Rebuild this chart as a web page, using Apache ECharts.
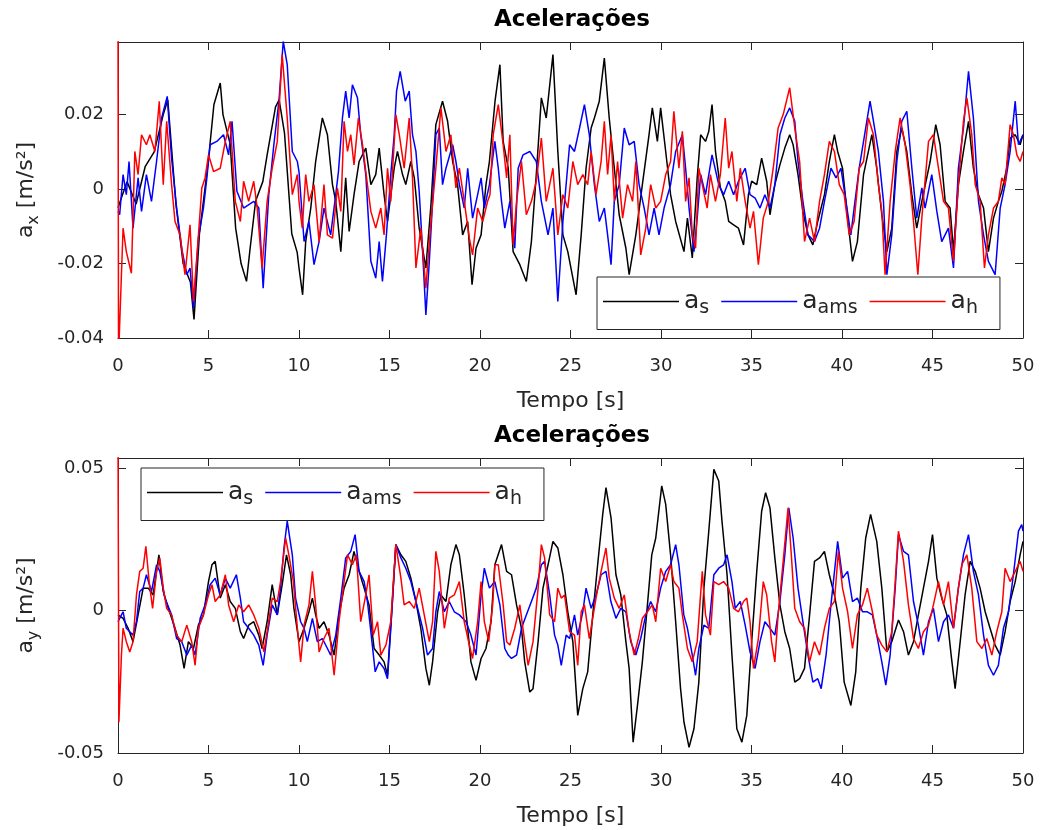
<!DOCTYPE html>
<html><head><meta charset="utf-8">
<script src="https://cdn.jsdelivr.net/npm/echarts@6/dist/echarts.min.js"></script>
<style>html,body{margin:0;padding:0;background:#fff}#c{width:1041px;height:830px}</style>
</head><body><div id="c"></div>
<script>
// ---- data: [time (s), acceleration (m/s²)] ----
const seriesNames = ['a_s', 'a_ams', 'a_h'];
const seriesSubs = { 'a_s': 's', 'a_ams': 'ams', 'a_h': 'h' };
const titleText = 'Acelerações';
const xTickInterval = 5;

const topAs = [[0,-0.005],[0.5,0.002],[1.0,-0.004],[1.5,0.006],[2.0,0.010],[2.5,0.020],[2.75,0.024],[3.2,-0.004],[3.6,-0.020],[4.0,-0.025],[4.2,-0.035],[4.5,-0.012],[5.0,0.008],[5.3,0.0227],[5.65,0.0285],[5.8,0.020],[6.2,0.012],[6.5,-0.0105],[6.8,-0.020],[7.1,-0.0248],[7.3,-0.0159],[7.6,-0.0033],[8.0,0.002],[8.24,0.0092],[8.7,0.022],[8.9,0.024],[9.2,0.015],[9.6,-0.012],[9.9,-0.017],
[10.0,-0.0212],[10.2,-0.0284],[10.37,-0.0141],[10.65,-0.0051],[10.92,0.0074],[11.29,0.0191],[11.57,0.0146],[11.85,0.0012],[12.03,-0.0033],[12.31,-0.0168],[12.58,0.003],[12.77,-0.0114],[13.04,-0.0015],[13.32,0.0074],[13.69,0.011],[13.97,0.0012],[14.24,0.0039],[14.43,0.011],[14.7,-0.0015],[14.89,-0.0087],[15.26,0.0056],[15.44,0.0101],[15.72,0.0039],[15.9,0.0012],[16.18,0.0074],[16.37,0.003],[16.64,-0.0105],[17.01,-0.0212],[17.29,-0.0042],[17.56,0.0173],[17.93,0.0236],[18.21,0.0182],[18.49,0.0074],[18.76,0.0012],[19.04,-0.0123],[19.32,-0.0087],[19.56,-0.0257],[19.78,-0.0159],[20.06,-0.0123],[20.33,0.0012],[20.52,0.0074],
[20.83,0.0236],[21.1,0.0334],[21.28,0.0128],[21.56,0.0056],[21.83,-0.0168],[22.2,-0.0203],[22.56,-0.0248],[22.84,-0.0141],[23.11,0.0039],[23.39,0.0245],[23.66,0.0191],[24.03,0.0361],[24.3,0.0101],[24.58,-0.0123],[24.85,-0.0168],[25.31,-0.0284],[25.59,-0.0123],[25.86,0.0056],[26.14,0.0164],[26.32,0.0191],[26.59,0.0236],[26.87,0.0352],[27.14,0.0191],[27.42,0.0056],[27.69,-0.0069],[28.06,-0.0159],[28.24,-0.023],[28.61,-0.0123],[28.97,0.0012],[29.34,0.0146],[29.52,0.0218],[29.8,0.0128],[29.98,0.0218],[30.26,0.0101],[30.53,-0.0015],[30.81,-0.0087],
[31.27,-0.0168],[31.46,-0.0078],[31.73,-0.0185],[32.0,0.003],[32.19,0.0146],[32.46,0.0128],[32.64,0.0155],[32.82,0.0227],[33.01,0.0101],[33.28,0.0003],[33.55,-0.0033],[33.74,-0.0087],[34.01,-0.0096],[34.28,-0.0105],[34.56,-0.015],[34.83,-0.0015],[35.01,0.0021],[35.29,0.0012],[35.56,0.0083],[35.84,0.0021],[36.02,-0.0069],[36.29,0.0012],[36.57,0.0065],[36.84,0.011],[37.11,0.0146],[37.3,0.0119],[37.57,0.0039],[37.84,-0.006],[38.12,-0.0123],[38.39,-0.015],[38.66,-0.0087],[39.03,-0.0015],[39.3,0.0074],[39.58,0.0146],[39.76,0.0101],[40.03,0.0056],[40.31,-0.0078],[40.58,-0.0194],[40.85,-0.0141],
[41.19,0.0039],[41.65,0.0146],[41.92,0.0056],[42.2,-0.0069],[42.48,-0.0168],[42.75,-0.0105],[43.03,0.0101],[43.3,0.0164],[43.58,0.0101],[43.86,-0.0015],[44.13,-0.0105],[44.41,-0.0033],[44.87,0.0074],[45.18,0.0173],[45.42,0.0119],[45.7,-0.0033],[45.97,-0.0051],[46.16,-0.0168],[46.43,0.0012],[46.71,0.0101],[46.99,0.0182],[47.26,0.0056],[47.54,-0.0015],[47.82,-0.0051],[48.09,-0.0168],[48.37,-0.0078],[48.64,-0.0033],[48.83,-0.0006],[49.1,0.0056],[49.29,0.0137],[49.57,0.0146],[49.84,0.0119],[50.0,0.0146]];

const topAms = [[0,-0.006],[0.09,-0.0069],[0.28,0.0039],[0.46,-0.0015],[0.61,0.0074],[0.83,-0.0105],[1.11,0.003],[1.3,-0.006],[1.57,0.0039],[1.85,-0.0033],[2.13,0.0074],[2.41,0.0191],[2.72,0.0249],[2.96,0.0083],[3.24,-0.0051],[3.52,-0.0159],[3.8,-0.023],[3.98,-0.0212],[4.17,-0.032],[4.44,-0.0132],[4.72,-0.0051],[4.91,0.003],[5.09,0.0119],[5.46,0.0128],[5.83,0.0146],[6.11,0.0092],[6.3,0.0182],[6.57,-0.0006],[6.94,-0.0051],[7.5,-0.0033],[7.78,-0.0051],[8.02,-0.0266],[8.33,-0.0015],[8.61,0.0119],[8.89,0.0236],[9.13,0.0397],[9.35,0.0334],[9.63,0.0101],[9.91,0.0074],
[10.0,0.0047],[10.28,-0.0141],[10.55,-0.0087],[10.83,-0.0203],[11.11,-0.0141],[11.38,-0.0051],[11.75,-0.0123],[12.03,-0.0015],[12.18,0.0047],[12.4,0.0191],[12.58,0.0263],[12.77,0.0191],[12.95,0.028],[13.23,0.0245],[13.41,0.0146],[13.69,0.0039],[13.97,-0.0194],[14.24,-0.0239],[14.43,-0.0141],[14.61,-0.0248],[14.83,-0.0123],[15.07,0.0039],[15.26,0.0146],[15.39,0.0263],[15.59,0.0316],[15.87,0.0236],[16.09,0.0263],[16.27,0.0146],[16.46,0.0101],[16.64,-0.0006],[16.83,-0.0168],[17.01,-0.0338],[17.2,-0.0194],[17.38,-0.0033],[17.56,0.0146],[17.75,0.0164],[17.93,0.0012],[18.12,0.0056],[18.49,0.0119],[18.67,0.0074],[18.86,0.0012],[19.13,-0.0051],[19.32,0.0056],[19.59,-0.0078],[19.87,-0.0015],[20.06,0.003],[20.24,-0.0051],[20.52,0.0012],
[20.82,0.0128],[21.01,0.0056],[21.19,-0.0033],[21.37,-0.0105],[21.65,-0.0033],[21.92,-0.0159],[22.11,0.0056],[22.38,0.0092],[22.75,0.0101],[23.11,0.0074],[23.39,-0.0033],[23.76,-0.0123],[24.03,-0.0051],[24.3,-0.0302],[24.58,-0.0087],[24.95,0.0119],[25.22,0.0101],[25.5,0.0164],[25.77,0.0227],[26.04,0.0146],[26.32,0.0012],[26.59,-0.0087],[26.87,-0.0051],[27.05,-0.0123],[27.24,-0.0203],[27.42,-0.0033],[27.69,0.0012],[27.97,0.0164],[28.24,0.0119],[28.52,0.0128],[28.79,0.0012],[29.07,-0.0051],[29.34,-0.0123],[29.62,-0.0051],[29.89,-0.0123],[30.17,-0.0051],[30.53,0.0012],[30.81,0.0101],
[31.18,0.0146],[31.36,0.0056],[31.55,-0.0051],[31.82,-0.0168],[32.0,-0.0078],[32.19,0.0039],[32.46,-0.0015],[32.82,0.0092],[33.19,0.0012],[33.46,-0.0015],[33.74,0.0021],[34.01,-0.0015],[34.28,0.0021],[34.65,0.0056],[34.92,-0.0015],[35.2,-0.0024],[35.47,-0.0051],[35.74,-0.0015],[36.02,-0.0051],[36.29,0.0012],[36.57,0.0146],[36.84,0.0191],[37.11,0.0218],[37.39,0.0182],[37.57,0.0074],[37.84,-0.0033],[38.12,-0.0123],[38.48,-0.0141],[38.76,-0.0105],[39.03,-0.0033],[39.39,0.0056],[39.67,0.003],[39.94,0.0056],[40.22,-0.0033],[40.49,-0.0123],[40.67,-0.0051],[40.95,0.0056],
[41.19,0.0128],[41.55,0.0236],[41.74,0.0182],[42.01,0.0101],[42.29,-0.0033],[42.48,-0.023],[42.75,-0.0123],[43.03,0.0074],[43.3,0.0182],[43.58,0.0209],[43.86,0.0056],[44.13,-0.0078],[44.41,0.0003],[44.59,-0.0051],[44.96,0.0039],[45.24,-0.006],[45.51,-0.0141],[45.88,-0.0105],[46.16,-0.0212],[46.43,0.0056],[46.71,0.0164],[46.99,0.0316],[47.26,0.0191],[47.54,-0.0033],[47.82,-0.0123],[48.09,-0.0194],[48.46,-0.023],[48.74,-0.0051],[49.01,0.0012],[49.29,0.0101],[49.57,0.0236],[49.75,0.0119],[50.0,0.0146]];

const topH = [[0,0.045],[0.03,-0.045],[0.28,-0.0105],[0.46,-0.0168],[0.74,-0.0226],[0.93,0.0101],[1.11,0.0039],[1.3,0.0146],[1.57,0.0119],[1.76,0.0146],[2.04,0.0101],[2.28,0.0236],[2.5,0.0012],[2.69,0.0182],[2.96,0.0012],[3.15,-0.0087],[3.43,-0.0123],[3.7,-0.023],[3.98,-0.0096],[4.17,-0.0302],[4.39,-0.0159],[4.63,0.0003],[4.81,0.003],[5.0,0.0092],[5.28,0.0047],[5.65,0.0056],[5.93,0.0128],[6.2,0.0182],[6.48,-0.0033],[6.76,-0.0087],[6.94,0.0021],[7.22,-0.0033],[7.5,0.0021],[7.69,-0.0051],[7.96,-0.0212],[8.24,-0.0033],[8.52,0.0056],[8.8,0.0128],[9.07,0.0361],[9.35,0.0191],[9.63,-0.0015],[9.91,0.0039],
[10.0,-0.0033],[10.18,-0.0105],[10.37,0.0039],[10.55,-0.0033],[10.83,0.0012],[11.11,-0.0141],[11.38,0.0012],[11.57,-0.0123],[11.85,-0.0132],[12.12,0.0003],[12.31,-0.006],[12.49,0.0182],[12.68,0.0101],[12.86,0.0146],[13.04,0.0065],[13.28,0.0191],[13.51,0.0119],[13.78,0.0012],[13.97,-0.006],[14.24,-0.0105],[14.52,-0.0051],[14.7,-0.0123],[14.89,0.0056],[15.07,-0.0033],[15.35,0.02],[15.54,0.0146],[15.81,0.0056],[16.09,0.0191],[16.27,0.003],[16.46,-0.0212],[16.73,-0.0105],[17.01,-0.0266],[17.29,-0.0087],[17.56,0.0056],[17.84,0.0218],[18.12,0.0101],[18.39,0.0146],[18.67,0.0003],[18.86,0.0056],[19.13,-0.0033],[19.41,-0.0132],[19.59,-0.0177],[19.87,-0.0051],[20.15,-0.0087],[20.42,-0.0033],
[20.55,-0.0015],[20.73,0.0146],[21.01,0.0227],[21.28,0.0119],[21.47,0.003],[21.65,0.0146],[21.83,-0.015],[22.02,-0.0033],[22.29,0.0074],[22.56,-0.0069],[22.84,-0.0033],[23.11,0.0021],[23.39,0.0137],[23.66,-0.0033],[23.85,0.0012],[24.03,0.0056],[24.3,-0.0123],[24.58,-0.0015],[24.85,-0.0051],[25.13,0.0074],[25.4,0.0012],[25.68,0.0039],[25.95,0.0012],[26.14,0.0101],[26.41,-0.0015],[26.69,0.0074],[26.87,0.0182],[27.05,0.0039],[27.24,0.0146],[27.42,-0.0033],[27.6,0.0074],[27.88,-0.0078],[28.15,0.0012],[28.43,-0.0033],[28.61,0.0074],[28.88,-0.0177],[29.16,-0.0105],[29.43,0.0012],[29.71,-0.0051],[29.98,-0.0033],[30.26,0.0039],[30.53,0.0074],[30.71,0.0209],[30.99,0.0056],
[31.18,0.0155],[31.36,-0.0033],[31.55,0.003],[31.73,-0.0123],[31.91,-0.0159],[32.09,0.0056],[32.28,0.0012],[32.55,-0.0051],[32.73,0.0039],[33.01,-0.0033],[33.28,0.0039],[33.55,0.0191],[33.74,0.0056],[33.92,0.0101],[34.19,-0.0033],[34.38,0.0056],[34.65,-0.0033],[34.92,-0.0105],[35.11,-0.006],[35.38,-0.0203],[35.65,-0.0078],[35.93,-0.0033],[36.2,0.0056],[36.47,0.0164],[36.75,0.02],[37.11,0.0272],[37.39,0.0164],[37.66,0.0074],[37.93,-0.0141],[38.21,-0.0078],[38.48,-0.0141],[38.76,-0.0033],[39.03,0.0039],[39.3,0.0128],[39.58,0.0101],[39.85,0.0012],[40.12,-0.0015],[40.4,-0.0123],[40.67,-0.0087],[40.95,0.0056],
[41.19,0.0074],[41.46,0.0191],[41.74,0.0146],[42.01,0.0012],[42.2,-0.006],[42.38,-0.023],[42.66,-0.0033],[42.94,0.0101],[43.21,0.0191],[43.49,0.0119],[43.76,0.0012],[43.95,-0.0087],[44.19,-0.023],[44.41,-0.0078],[44.78,0.0128],[45.05,0.0146],[45.33,0.0056],[45.61,-0.0033],[45.88,-0.0051],[46.16,-0.0194],[46.43,0.0012],[46.71,0.0182],[46.9,0.0245],[47.17,0.0146],[47.36,0.0012],[47.63,-0.0033],[47.87,-0.0212],[48.09,-0.0123],[48.37,-0.0051],[48.64,-0.0033],[48.83,0.003],[49.01,0.0012],[49.29,0.0173],[49.47,0.0146],[49.66,0.0092],[49.84,0.0074],[50.0,0.0101]];

const botAs = [[0,-0.0015],[0.28,-0.0027],[0.56,-0.0062],[0.83,-0.0109],[1.11,-0.0015],[1.39,0.0079],[1.67,0.0079],[1.94,0.0055],[2.26,0.0196],[2.5,0.0067],[2.78,0.0008],[3.15,-0.0062],[3.43,-0.0121],[3.65,-0.0203],[3.89,-0.0109],[4.17,-0.0133],[4.44,-0.0051],[4.72,-0.0015],[5.0,0.0102],[5.19,0.0161],[5.37,0.0173],[5.65,0.0044],[5.93,0.0091],[6.2,0.0032],[6.48,0.0008],[6.76,-0.0074],[6.94,-0.0098],[7.22,-0.0051],[7.5,-0.0039],[7.78,-0.0086],[7.96,-0.0133],[8.24,-0.0039],[8.52,0.0091],[8.8,-0.0015],[9.07,0.0091],[9.31,0.0196],[9.54,0.0126],[9.72,0.0008],[10.0,-0.0109],
[10.28,-0.0062],[10.55,-0.0004],[10.74,0.0044],[10.92,-0.0015],[11.11,-0.0062],[11.38,-0.0039],[11.66,-0.0086],[11.94,-0.0156],[12.21,-0.0015],[12.49,0.0079],[12.77,0.0126],[13.04,0.0208],[13.32,0.0138],[13.6,0.0079],[13.87,0.002],[14.15,-0.0133],[14.43,-0.0156],[14.7,-0.018],[14.89,-0.0227],[15.17,0.0044],[15.35,0.0232],[15.63,0.0196],[15.9,0.0173],[16.18,0.0114],[16.46,0.0032],[16.73,-0.0062],[17.01,-0.0203],[17.2,-0.0262],[17.38,-0.018],[17.66,-0.0004],[17.84,0.0055],[18.12,0.0032],[18.39,0.0161],[18.67,0.0232],[18.86,0.0196],[19.13,0.0055],[19.32,-0.0062],[19.5,-0.018],[19.78,-0.0245],[20.06,-0.0168],[20.33,-0.0133],[20.61,-0.0039],
[20.82,0.0161],[21.19,0.0232],[21.47,0.0138],[21.74,0.0126],[22.02,0.002],[22.29,-0.0062],[22.47,-0.018],[22.75,-0.0286],[22.93,-0.0274],[23.21,-0.0109],[23.48,0.0079],[23.76,0.0161],[24.03,0.0243],[24.3,0.022],[24.58,0.0126],[24.85,-0.0004],[25.13,-0.0109],[25.4,-0.0368],[25.68,-0.0274],[25.95,-0.0215],[26.23,-0.0015],[26.5,0.0161],[26.78,0.0338],[26.96,0.0432],[27.24,0.0326],[27.51,0.0126],[27.78,0.0055],[28.06,-0.0109],[28.24,-0.0203],[28.46,-0.0462],[28.7,-0.0333],[28.97,-0.018],[29.25,0.002],[29.49,0.0196],[29.71,0.0255],[30.04,0.0438],[30.26,0.0373],[30.53,0.0196],[30.81,-0.0039],[31.08,-0.0274],
[31.27,-0.0392],[31.55,-0.048],[31.82,-0.0415],[32.09,-0.0251],[32.37,0.0079],[32.64,0.0279],[32.92,0.0496],[33.19,0.0455],[33.37,0.0314],[33.65,0.0126],[33.92,-0.0156],[34.19,-0.0415],[34.47,-0.0462],[34.74,-0.0368],[35.01,-0.0109],[35.29,0.0138],[35.56,0.0349],[35.78,0.0414],[36.02,0.0361],[36.29,0.0185],[36.57,0.002],[36.84,-0.0074],[37.11,-0.0133],[37.39,-0.0251],[37.66,-0.0239],[37.93,-0.0203],[38.21,-0.0015],[38.48,0.0173],[38.76,0.0185],[39.03,0.0208],[39.3,0.0126],[39.58,0.0055],[39.85,-0.0039],[40.12,-0.0251],[40.49,-0.0333],[40.76,-0.0215],[41.04,0.0079],[41.31,0.0255],[41.58,0.0338],
[41.92,0.0243],[42.2,0.0079],[42.48,-0.0145],[42.75,-0.0109],[43.12,-0.0033],[43.4,-0.0074],[43.67,-0.0156],[43.95,-0.0109],[44.22,-0.0015],[44.5,0.0079],[44.78,0.0173],[45.0,0.0267],[45.24,0.0114],[45.51,0.0044],[45.79,-0.0015],[46.03,-0.0156],[46.25,-0.0274],[46.53,-0.0109],[46.8,0.0055],[47.08,0.0173],[47.36,0.0138],[47.63,0.0079],[47.91,-0.0004],[48.18,-0.0062],[48.46,-0.0121],[48.74,-0.0156],[49.01,-0.0074],[49.29,0.0032],[49.57,0.0102],[49.84,0.0196],[50.0,0.0243]];

const botAms = [[0,-0.0039],[0.19,-0.0015],[0.28,-0.0004],[0.46,-0.0062],[0.65,-0.0074],[0.83,-0.0086],[1.02,-0.0039],[1.2,0.0067],[1.39,0.0079],[1.57,0.0126],[1.85,0.0067],[2.13,0.0161],[2.31,0.0138],[2.59,0.0044],[2.96,-0.0015],[3.24,-0.0098],[3.52,-0.0109],[3.8,-0.0156],[4.07,-0.0121],[4.26,-0.0156],[4.54,-0.0027],[4.81,0.002],[5.09,0.0091],[5.37,0.0114],[5.65,0.0055],[5.93,0.0114],[6.2,0.0079],[6.54,0.0126],[6.76,0.0044],[6.94,-0.0039],[7.22,-0.0062],[7.5,-0.0086],[7.78,-0.0121],[8.02,-0.0192],[8.24,-0.0086],[8.52,0.002],[8.8,-0.0015],[8.98,0.0079],[9.17,0.022],[9.35,0.0314],[9.63,0.0196],[9.81,0.0044],[10.09,-0.0039],
[10.28,-0.0062],[10.46,-0.0109],[10.74,-0.0027],[11.01,-0.0109],[11.29,-0.0098],[11.57,-0.0133],[11.75,-0.0156],[12.03,-0.0086],[12.31,0.0044],[12.58,0.0185],[12.86,0.0208],[13.1,0.0267],[13.32,0.0138],[13.6,0.0102],[13.78,0.0032],[13.97,-0.0074],[14.21,-0.0215],[14.43,-0.018],[14.7,-0.0203],[14.89,-0.0239],[15.13,-0.0004],[15.35,0.0232],[15.63,0.0185],[15.9,0.0149],[16.18,0.0102],[16.46,0.0032],[16.83,-0.0062],[17.1,-0.0156],[17.38,-0.0133],[17.56,-0.0004],[17.75,0.0067],[18.03,-0.0004],[18.3,0.0032],[18.58,-0.0004],[18.86,-0.0015],[19.23,-0.0039],[19.5,-0.0086],[19.78,-0.0156],[20.06,0.0055],[20.24,0.0149],[20.52,0.0079],
[20.82,0.0102],[21.1,0.002],[21.37,-0.0133],[21.56,-0.0156],[21.74,-0.0168],[22.02,-0.0156],[22.29,-0.0062],[22.56,-0.0015],[22.84,0.0032],[23.11,0.0079],[23.39,0.0161],[23.57,0.0173],[23.85,0.0055],[24.12,-0.0086],[24.3,-0.0121],[24.49,-0.0192],[24.76,-0.0086],[24.95,-0.0098],[25.22,-0.0015],[25.4,-0.0086],[25.68,-0.0004],[25.86,0.0079],[26.14,0.0008],[26.41,0.0055],[26.69,0.0126],[26.96,0.0138],[27.23,0.0032],[27.51,-0.0027],[27.78,0.0008],[28.06,-0.0004],[28.33,-0.0109],[28.61,-0.0156],[28.88,-0.0098],[29.16,-0.0015],[29.43,0.0032],[29.71,-0.0004],[29.98,0.0079],[30.26,0.0138],[30.53,0.0161],[30.81,0.0232],[30.99,0.0161],[31.26,-0.0015],
[31.46,-0.0062],[31.73,-0.0156],[31.91,-0.0227],[32.09,-0.0133],[32.37,-0.0051],[32.64,-0.0062],[32.92,0.0126],[33.19,0.0149],[33.46,0.0161],[33.65,0.0196],[33.92,0.0102],[34.1,0.0008],[34.38,0.0032],[34.65,-0.0051],[34.92,-0.0145],[35.2,-0.0203],[35.47,-0.0109],[35.74,-0.0039],[36.02,-0.0062],[36.29,-0.0086],[36.57,0.0032],[36.84,0.0196],[37.06,0.0361],[37.3,0.0255],[37.57,0.0079],[37.84,-0.0039],[38.12,-0.0156],[38.39,-0.0251],[38.66,-0.0239],[38.85,-0.0274],[39.12,-0.0156],[39.39,0.002],[39.76,0.0243],[40.03,0.0114],[40.31,0.0138],[40.58,0.0032],[40.85,0.0044],[41.13,-0.0004],[41.4,-0.0004],[41.68,-0.0015],
[41.92,-0.0086],[42.2,-0.018],[42.42,-0.0262],[42.66,-0.0156],[42.94,0.0079],[43.12,0.0267],[43.4,0.0208],[43.67,0.0196],[43.95,0.0032],[44.22,-0.0051],[44.5,-0.0156],[44.78,-0.0039],[45.05,0.0008],[45.33,-0.0109],[45.61,-0.0039],[45.88,-0.0015],[46.16,-0.0062],[46.43,0.0079],[46.71,0.0196],[46.99,0.0267],[47.26,0.0138],[47.54,0.0055],[47.82,-0.0086],[48.09,-0.0192],[48.37,-0.0227],[48.64,-0.0192],[48.92,-0.0062],[49.2,-0.0004],[49.47,0.0126],[49.75,0.0279],[49.93,0.0302],[50.0,0.0279]];

const botH = [[0,0.06],[0.05,-0.0392],[0.19,-0.0156],[0.28,-0.0062],[0.46,-0.0109],[0.65,-0.0145],[0.83,-0.0109],[1.02,0.0055],[1.2,0.0138],[1.39,0.0149],[1.54,0.0226],[1.72,0.0102],[1.91,0.0008],[2.13,0.0138],[2.31,0.0185],[2.5,0.0079],[2.69,0.0008],[2.96,-0.0015],[3.24,-0.0086],[3.52,-0.0109],[3.8,-0.0051],[4.07,-0.0109],[4.26,-0.0192],[4.44,-0.0062],[4.72,-0.0015],[5.0,0.0055],[5.19,0.0091],[5.37,0.0032],[5.65,0.0055],[5.93,0.0126],[6.11,0.002],[6.39,-0.0039],[6.67,0.002],[6.94,-0.0004],[7.22,0.002],[7.5,-0.0015],[7.78,-0.0062],[8.06,-0.0145],[8.24,-0.0074],[8.52,0.0044],[8.8,0.0032],[8.98,0.0102],[9.26,0.0255],[9.44,0.0196],[9.69,0.0102],[9.91,-0.0062],[10.09,-0.018],
[10.28,-0.0051],[10.55,0.002],[10.74,0.0138],[10.92,0.002],[11.11,-0.0145],[11.38,-0.0098],[11.66,-0.0062],[11.94,-0.0227],[12.21,-0.0039],[12.49,0.0102],[12.68,0.0196],[12.95,0.0161],[13.17,0.0196],[13.41,-0.0039],[13.69,0.0055],[13.87,0.0126],[14.1,-0.0086],[14.34,-0.0039],[14.52,-0.0156],[14.8,-0.0121],[15.07,-0.0039],[15.35,0.0232],[15.63,0.0114],[15.81,0.002],[16.09,0.0032],[16.37,0.0008],[16.64,0.0079],[16.92,-0.0015],[17.2,-0.0109],[17.38,-0.0039],[17.56,0.0208],[17.75,0.0138],[18.03,-0.0062],[18.3,0.0044],[18.58,0.0055],[18.86,0.0102],[19.13,-0.0039],[19.41,-0.0121],[19.59,-0.0168],[19.87,-0.0039],[20.06,0.0102],[20.24,-0.0039],[20.48,-0.0109],[20.7,0.002],
[20.82,0.0161],[21.01,0.0161],[21.28,0.002],[21.47,-0.0109],[21.65,-0.0121],[21.92,-0.0062],[22.2,0.002],[22.47,-0.0109],[22.66,-0.0192],[22.93,-0.0109],[23.21,0.0079],[23.39,0.0232],[23.57,0.0185],[23.85,-0.0015],[24.12,-0.0039],[24.3,0.0079],[24.49,0.0044],[24.67,0.0055],[24.95,-0.0074],[25.22,-0.0086],[25.4,-0.0192],[25.59,-0.0004],[25.77,0.002],[26.04,-0.0098],[26.41,0.0044],[26.69,0.0138],[26.96,0.022],[27.14,0.0114],[27.42,0.0044],[27.69,0.0008],[27.97,0.0055],[28.24,-0.0074],[28.52,-0.0156],[28.75,-0.0098],[28.97,-0.0027],[29.25,-0.0004],[29.52,0.002],[29.71,-0.0039],[29.98,0.0149],[30.26,0.0102],[30.53,0.0161],[30.71,0.0102],[30.99,0.0079],[31.18,-0.0015],
[31.46,-0.0133],[31.73,-0.018],[32.0,-0.0109],[32.28,0.0138],[32.46,-0.0015],[32.73,-0.0086],[32.92,0.0102],[33.19,0.0091],[33.46,0.0102],[33.74,0.0079],[34.01,0.0008],[34.28,-0.0004],[34.56,0.0032],[34.74,0.0044],[34.92,-0.0039],[35.11,-0.0203],[35.38,-0.0098],[35.65,0.0102],[35.84,0.0055],[36.11,-0.0109],[36.29,-0.018],[36.47,-0.0015],[36.75,0.0173],[37.02,0.0361],[37.2,0.0196],[37.39,0.0008],[37.66,-0.0039],[37.93,-0.0062],[38.21,-0.018],[38.48,-0.0109],[38.76,-0.0156],[39.03,-0.0062],[39.3,0.0008],[39.58,0.0032],[39.8,0.0208],[40.03,0.0079],[40.31,-0.0004],[40.58,-0.0133],[40.85,-0.0015],[41.13,0.002],[41.4,0.0079],[41.68,-0.0004],
[41.92,-0.0086],[42.2,-0.0121],[42.48,-0.0145],[42.75,-0.0074],[42.94,0.0102],[43.12,0.0279],[43.4,0.0173],[43.67,0.002],[43.95,-0.0098],[44.22,-0.0133],[44.5,-0.0074],[44.78,-0.0051],[45.05,0.002],[45.33,0.0102],[45.61,0.002],[45.88,0.0102],[46.16,-0.0062],[46.43,0.0079],[46.62,0.0161],[46.9,0.0196],[47.17,0.0079],[47.45,-0.0109],[47.73,-0.0133],[48.0,-0.0098],[48.28,-0.0156],[48.55,-0.0074],[48.83,-0.0004],[49.01,0.0149],[49.29,0.0102],[49.57,0.0138],[49.84,0.0173],[50.0,0.0138]];

// ---- chart ----
const FONT = 'DejaVu Sans';
const AX = '#262626';
const COLORS = ['#000000', '#0000ff', '#ff0000'];
const TICK_FS = 18, NAME_FS = 22;

function xAx(gi, pos, withLabels) {
  return {
    type: 'value', gridIndex: gi, position: pos, min: 0, max: 50, interval: xTickInterval,
    axisLine: { show: true, onZero: false, lineStyle: { color: AX, width: 1 } },
    axisTick: { show: true, inside: true, length: 8, lineStyle: { color: AX } },
    axisLabel: { show: withLabels, color: AX, fontFamily: FONT, fontSize: TICK_FS, margin: 19 },
    splitLine: { show: false },
    name: withLabels ? 'Tempo [s]' : '', nameLocation: 'middle', nameGap: 52,
    nameTextStyle: { color: AX, fontFamily: FONT, fontSize: NAME_FS }
  };
}
function yAx(gi, pos, withLabels, min, max, interval, sub) {
  return {
    type: 'value', gridIndex: gi, position: pos, min: min, max: max, interval: interval,
    axisLine: { show: true, onZero: false, lineStyle: { color: AX, width: 1 } },
    axisTick: { show: true, inside: true, length: 8, lineStyle: { color: AX } },
    axisLabel: { show: withLabels, color: AX, fontFamily: FONT, fontSize: TICK_FS, margin: 14, showMaxLabel: false },
    splitLine: { show: false },
    name: withLabels ? '{a|a}{s|' + sub + '}{a| [m/s²]}' : '', nameLocation: 'middle', nameGap: 76,
    nameTextStyle: { color: AX, fontFamily: FONT, fontSize: NAME_FS,
      rich: { a: { color: AX, fontFamily: FONT, fontSize: NAME_FS },
              s: { color: AX, fontFamily: FONT, fontSize: 16, verticalAlign: 'bottom', lineHeight: 32 } } }
  };
}
function mkSeries(data, idx, xi, yi) {
  return { type: 'line', name: seriesNames[idx], data: data, xAxisIndex: xi, yAxisIndex: yi,
    symbol: 'none', showSymbol: false, clip: true, silent: true, animation: false,
    itemStyle: { color: COLORS[idx] }, lineStyle: { color: COLORS[idx], width: 1.5 }, z: 2 + idx };
}
function mkLegend(left, top) {
  return {
    show: true, left: left, top: top, orient: 'horizontal', data: seriesNames,
    icon: 'rect', itemWidth: 76, itemHeight: 1.5, itemGap: 12, selectedMode: false,
    padding: [12, 22, 12, 6], backgroundColor: '#ffffff', borderColor: AX, borderWidth: 1, z: 20,
    formatter: n => '{a|a}{s|' + seriesSubs[n] + '}',
    textStyle: { color: AX, fontFamily: FONT, fontSize: 25,
      rich: { a: { color: AX, fontFamily: FONT, fontSize: 25, lineHeight: 32, verticalAlign: 'middle' },
              s: { color: AX, fontFamily: FONT, fontSize: 19, lineHeight: 32, verticalAlign: 'bottom' } } }
  };
}

const chart = echarts.init(document.getElementById('c'), null, { renderer: 'canvas' });
chart.setOption({
  animation: false,
  backgroundColor: '#ffffff',
  grid: [
    { left: 118, right: 18, top: 42, height: 296, containLabel: false },
    { left: 118, right: 18, top: 458, height: 295, containLabel: false }
  ],
  xAxis: [ xAx(0, 'bottom', true), xAx(0, 'top', false), xAx(1, 'bottom', true), xAx(1, 'top', false) ],
  yAxis: [ yAx(0, 'left', true, -0.04, 0.0395, 0.02, 'x'), yAx(0, 'right', false, -0.04, 0.0395, 0.02, ''),
           yAx(1, 'left', true, -0.05, 0.0536, 0.05, 'y'), yAx(1, 'right', false, -0.05, 0.0536, 0.05, '') ],
  legend: [ mkLegend(597, 277), mkLegend(141, 468) ],
  graphic: [
    { type: 'text', x: 572, y: 20, style: { text: titleText, fill: '#000', font: 'bold 23px "DejaVu Sans"', textAlign: 'center', textVerticalAlign: 'middle' } },
    { type: 'text', x: 572, y: 436, style: { text: titleText, fill: '#000', font: 'bold 23px "DejaVu Sans"', textAlign: 'center', textVerticalAlign: 'middle' } }
  ],
  series: [
    mkSeries(topAs, 0, 0, 0), mkSeries(topAms, 1, 0, 0), mkSeries(topH, 2, 0, 0),
    mkSeries(botAs, 0, 2, 2), mkSeries(botAms, 1, 2, 2), mkSeries(botH, 2, 2, 2)
  ]
});
</script></body></html>
